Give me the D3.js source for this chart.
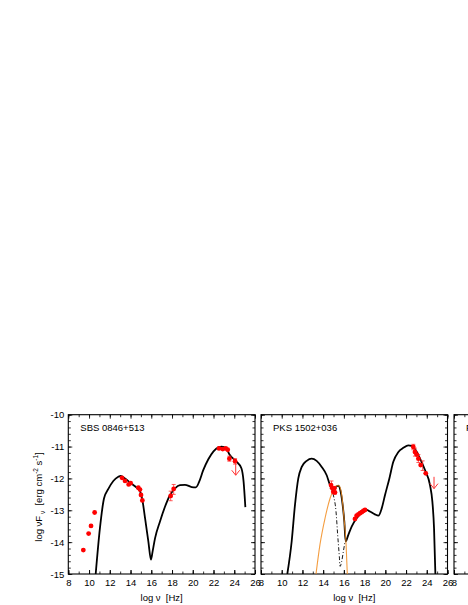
<!DOCTYPE html>
<html>
<head>
<meta charset="utf-8">
<script src="https://cdn.jsdelivr.net/npm/d3@7"></script>
<style>
  body { margin: 0; background: #fff; }
  text { font-family: "Liberation Sans", Arial, sans-serif; }
</style>
</head>
<body>
<svg id="svg" width="468" height="605"></svg>
<script>
// ---- data (log nu, log nuFnu) ----
var xTicks = [8, 10, 12, 14, 16, 18, 20, 22, 24, 26]
var yTicks = [-10, -11, -12, -13, -14, -15]

// SBS 0846+513
var sbsModel = [[10.64,-15],[11.05,-13.56],[11.44,-12.63],[11.86,-12.33],[12.34,-12.08],[12.82,-11.95],
  [13.05,-11.92],[13.47,-12.0],[13.95,-12.13],[14.59,-12.29],[14.91,-12.4],[15.17,-12.73],[15.4,-13.25],
  [15.72,-13.98],[15.97,-14.55],[16.13,-14.29],[16.36,-13.88],[16.84,-13.35],[17.32,-12.89],[17.81,-12.52],
  [18.29,-12.31],[18.77,-12.21],[19.25,-12.2],[19.9,-12.27],[20.3,-12.28],[20.6,-12.12],[21.0,-11.75],
  [21.5,-11.4],[22.0,-11.15],[22.5,-11.02],[22.8,-11.0],[23.2,-11.05],[23.56,-11.26],[24.2,-11.47],
  [24.69,-11.68],[24.9,-12.1],[25.07,-12.9]]
var sbsPoints = [[9.45,-14.25],[9.96,-13.73],[10.19,-13.49],[10.54,-13.07],[13.18,-11.98],[13.47,-12.08],
  [13.82,-12.19],[14.01,-12.15],[14.75,-12.29],[14.91,-12.35],[15.01,-12.52],[15.14,-12.69],
  [17.87,-12.55],[18.16,-12.33],
  [22.53,-11.06],[22.89,-11.08],[23.18,-11.06],[23.37,-11.1],[23.53,-11.38],[24.08,-11.46]]
var sbsErrors = [[17.87,-12.55,-12.4,-12.7],[18.16,-12.33,-12.19,-12.5],[23.53,-11.38,-11.3,-11.46],[24.08,-11.46,-11.38,-11.55]]
var sbsLimits = [[24.14,-11.5,-11.9]]

// PKS 1502+036
var pksModel = [[10.54,-15],[10.96,-13.98],[11.28,-12.83],[11.6,-12.0],[11.93,-11.64],[12.41,-11.45],
  [12.89,-11.38],[13.37,-11.45],[13.86,-11.64],[14.34,-11.9],[14.66,-12.21],[14.92,-12.36],[15.14,-12.29],
  [15.46,-12.23],[15.69,-12.42],[15.88,-12.83],[16.04,-13.35],[16.17,-13.98],[16.43,-13.77],[16.75,-13.51],
  [17.23,-13.25],[17.72,-13.06],[18.2,-12.99],[18.52,-13.04],[19.0,-13.13],[19.33,-13.17],[19.65,-12.94],
  [19.97,-12.52],[20.39,-12.0],[20.77,-11.48],[21.26,-11.17],[21.74,-11.04],[22.22,-10.96],[22.54,-10.98],
  [22.86,-11.08],[23.35,-11.38],[23.83,-11.74],[24.31,-12.21],[24.54,-12.73],[24.7,-13.56],[24.83,-15]]
var pksJet = [[14.66,-12.21],[14.98,-12.52],[15.24,-13.04],[15.4,-13.77],[15.56,-14.45],[15.63,-14.76],
  [15.79,-14.6],[15.95,-14.29],[16.11,-13.98]]
var pksDisk = [[13.31,-15],[13.69,-14.08],[14.18,-13.25],[14.66,-12.63],[14.98,-12.36],[15.3,-12.23],
  [15.53,-12.23],[15.79,-12.52],[16.04,-13.35],[16.2,-13.98],[16.33,-15]]
var pksPoints = [[14.76,-12.21],[14.89,-12.31],[14.98,-12.42],[15.08,-12.31],[15.14,-12.44],
  [17.07,-13.27],[17.23,-13.17],[17.4,-13.13],[17.56,-13.09],[17.72,-13.06],[17.88,-13.02],[18.04,-12.99],
  [22.7,-11.01],[22.86,-11.17],[23.03,-11.25],[23.19,-11.38],[23.41,-11.58],[23.9,-11.84]]
var pksErrors = [[14.8,-12.18,-12.08,-12.3],[15.1,-12.35,-12.25,-12.5],[22.7,-11.01,-10.93,-11.1],
  [22.86,-11.17,-11.05,-11.3],[23.19,-11.38,-11.25,-11.5],[23.6,-11.6,-11.45,-11.75]]
var pksLimits = [[24.7,-11.95,-12.32]]

var panels = [
  {name: "SBS 0846+513", left: 68.3, right: 255, model: sbsModel, points: sbsPoints, errors: sbsErrors, limits: sbsLimits},
  {name: "PKS 1502+036", left: 261, right: 447.5, model: pksModel, jet: pksJet, disk: pksDisk, points: pksPoints, errors: pksErrors, limits: pksLimits},
  {name: "PMN J0948+0022", left: 454, right: 640.5, model: [], points: [], errors: [], limits: []}
]

var plotTop = 414.7, plotBottom = 574, pageW = 468
const svg = d3.select("#svg")

var y = d3.scaleLinear().domain([-15, -10]).range([plotBottom, plotTop])
var yMinor = d3.range(-15, -9.99, 0.2).map(v => +v.toFixed(1))
var xMinor = d3.range(8, 27, 1)

panels.forEach(function(p, i){
  var x = d3.scaleLinear().domain([8, 26]).range([p.left, p.right])
  var g = svg.append("g")
  var clipId = "clip" + i
  svg.append("clipPath").attr("id", clipId).append("rect")
    .attr("x", p.left).attr("y", plotTop).attr("width", p.right - p.left).attr("height", plotBottom - plotTop)

  // axes, ticks pointing inward
  function ax(axisFn, scale, vals, size, labels, tr){
    var a = axisFn(scale).tickValues(vals).tickSizeInner(size).tickSizeOuter(0).tickPadding(3)
    a.tickFormat(labels ? (d => String(d)) : "")
    var s = g.append("g").attr("transform", tr).call(a)
    s.select(".domain").remove()
    s.selectAll("line").attr("stroke", "#000").attr("stroke-width", 0.8)
    s.selectAll("text").attr("font-size", "9.5px").attr("fill", "#000").attr("font-family", null)
    return s
  }
  // only label ticks that land inside the page (third panel is cut by the edge)
  var shownX = xTicks.filter(v => x(v) < pageW - 4)
  var bx = ax(d3.axisBottom, x, shownX, -4, true, `translate(0,${plotBottom})`)
  bx.selectAll("text").attr("y", 5)
  ax(d3.axisBottom, x, xTicks, -4, false, `translate(0,${plotBottom})`)
  ax(d3.axisBottom, x, xMinor, -2.5, false, `translate(0,${plotBottom})`)
  ax(d3.axisTop, x, xTicks, -4, false, `translate(0,${plotTop})`)
  ax(d3.axisTop, x, xMinor, -2.5, false, `translate(0,${plotTop})`)
  var ly = ax(d3.axisLeft, y, yTicks, -4, i == 0, `translate(${p.left},0)`)
  ly.selectAll("text").attr("x", -4)
  ax(d3.axisLeft, y, yMinor, -2.5, false, `translate(${p.left},0)`)
  ax(d3.axisRight, y, yTicks, -4, false, `translate(${p.right},0)`)
  ax(d3.axisRight, y, yMinor, -2.5, false, `translate(${p.right},0)`)

  g.append("rect").attr("x", p.left).attr("y", plotTop).attr("width", p.right - p.left).attr("height", plotBottom - plotTop)
    .attr("fill", "none").attr("stroke", "#000").attr("stroke-width", 1.1)

  g.append("text").attr("x", p.left + 12).attr("y", plotTop + 16).attr("font-size", "9.5px").text(p.name)

  var line = d3.line().x(d => x(d[0])).y(d => y(d[1])).curve(d3.curveMonotoneX)
  var plot = g.append("g").attr("clip-path", `url(#${clipId})`)

  if (p.jet) {
    plot.append("path").datum(p.jet).attr("d", line).attr("fill", "none")
      .attr("stroke", "#000").attr("stroke-width", 0.9).attr("stroke-dasharray", "4,2,1,2")
  }
  if (p.model.length) {
    plot.append("path").datum(p.model).attr("d", line).attr("fill", "none")
      .attr("stroke", "#000").attr("stroke-width", 1.8)
  }
  if (p.disk) {
    plot.append("path").datum(p.disk).attr("d", line).attr("fill", "none")
      .attr("stroke", "#f28c1e").attr("stroke-width", 1.1).attr("stroke-opacity", 0.85)
  }

  // data
  plot.selectAll(".err").data(p.errors).enter().append("g").each(function(d){
    var e = d3.select(this)
    e.append("line").attr("x1", x(d[0])).attr("x2", x(d[0])).attr("y1", y(d[2])).attr("y2", y(d[3]))
      .attr("stroke", "#f33").attr("stroke-width", 0.8)
    ;[d[2], d[3]].forEach(v => e.append("line").attr("x1", x(d[0]) - 2).attr("x2", x(d[0]) + 2)
      .attr("y1", y(v)).attr("y2", y(v)).attr("stroke", "#f33").attr("stroke-width", 0.8))
  })
  plot.selectAll(".pt").data(p.points).enter().append("circle")
    .attr("cx", d => x(d[0])).attr("cy", d => y(d[1])).attr("r", 2.4).attr("fill", "#f00")
  plot.selectAll(".lim").data(p.limits).enter().append("g").each(function(d){
    var e = d3.select(this)
    var xx = x(d[0]), y1 = y(d[1]), y2 = y(d[2])
    e.append("line").attr("x1", xx).attr("x2", xx).attr("y1", y1).attr("y2", y2).attr("stroke", "#f33").attr("stroke-width", 1)
    e.append("path").attr("d", `M${xx - 4},${y2 - 5}L${xx},${y2}L${xx + 4},${y2 - 5}`)
      .attr("fill", "none").attr("stroke", "#f33").attr("stroke-width", 1)
  })

  // x label
  if ((p.left + p.right) / 2 < pageW) {
    g.append("text").attr("x", (p.left + p.right) / 2).attr("y", 601)
      .attr("text-anchor", "middle").attr("font-size", "9.5px")
      .attr("xml:space", "preserve").text("log ν  [Hz]")
  }
})

// y label
var yl = svg.append("text").attr("transform", "translate(42,497) rotate(-90)")
  .attr("text-anchor", "middle").attr("font-size", "9.5px").attr("xml:space", "preserve")
yl.append("tspan").text("log νF")
yl.append("tspan").attr("font-size", "6.5px").attr("dy", "3").text(" ν")
yl.append("tspan").attr("dy", "-3").text("  [erg cm")
yl.append("tspan").attr("font-size", "6.5px").attr("dy", "-4").text("-2")
yl.append("tspan").attr("dy", "4").text(" s")
yl.append("tspan").attr("font-size", "6.5px").attr("dy", "-4").text("-1")
yl.append("tspan").attr("dy", "4").text("]")
</script>
</body>
</html>
